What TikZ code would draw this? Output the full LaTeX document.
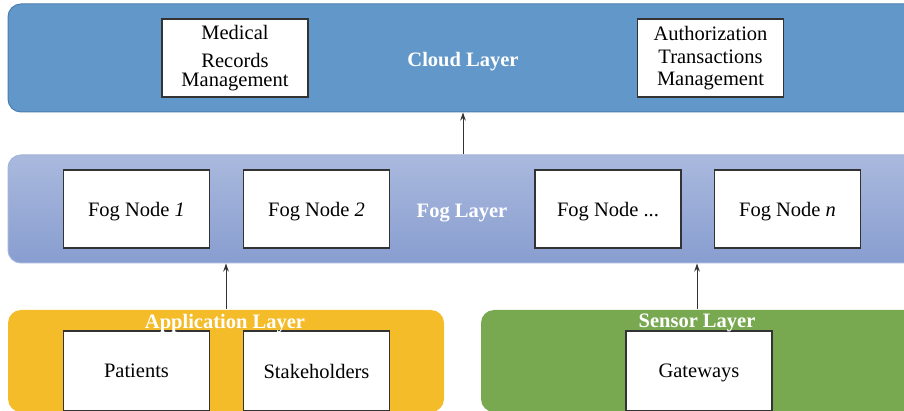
\documentclass[tikz,border=0pt]{standalone}
\usepackage{fontspec}
\setmainfont{Liberation Serif}
\usetikzlibrary{arrows.meta}

\definecolor{cloudfill}{HTML}{6198C9}
\definecolor{cloudedge}{HTML}{4D7DAE}
\definecolor{fogtop}{HTML}{AAB9DD}
\definecolor{fogbottom}{HTML}{889ED0}
\definecolor{fogedge}{HTML}{A3B3DA}
\definecolor{appfill}{HTML}{F5BC2A}
\definecolor{sensorfill}{HTML}{78A84F}
\definecolor{boxedge}{HTML}{333333}
\definecolor{arrowgray}{HTML}{333333}

\tikzset{
  layer/.style={rectangle, rounded corners=13pt, inner sep=0pt, line width=1pt},
  itembox/.style={rectangle, draw=boxedge, fill=white, line width=1.1pt,
    minimum width=146pt, minimum height=78pt, inner sep=0pt, align=center,
    text depth=0pt, font=\fontsize{20.5}{24}\selectfont},
  layerlabel/.style={text=white, font=\fontsize{20.5}{24}\selectfont\bfseries,
    inner sep=0pt, text depth=0pt},
  uparrow/.style={draw=arrowgray, line width=1pt, -{Stealth[length=8pt,width=5.5pt]}}
}

\begin{document}
\begin{tikzpicture}[x=1pt, y=-1pt]
  \useasboundingbox (0,0) rectangle (904,411);
  \clip (0,0) rectangle (904,411);

  % Cloud layer
  \node[layer, fill=cloudfill, draw=cloudedge, minimum width=912pt, minimum height=108pt]
    (cloud) at (464,58) {};
  \node[layerlabel] (cloudlbl) at (463,59) {Cloud Layer};
  \node[itembox, text depth=] (medical) at (235,58)
    {\strut Medical\\[4pt]\strut Records\\[-5pt]\strut Management};
  \node[itembox, text depth=] (auth) at (710.5,58)
    {\strut Authorization\\[-1pt]\strut Transactions\\[-2pt]\strut Management};

  % Fog layer
  \node[layer, top color=fogtop, bottom color=fogbottom, draw=fogedge,
        minimum width=912pt, minimum height=108pt]
    (fog) at (464,209) {};
  \node[layerlabel] (foglbl) at (462,211) {Fog Layer};
  \node[itembox] (fog1) at (136.5,209) {Fog Node \textit{1}};
  \node[itembox] (fog2) at (316.5,209) {Fog Node \textit{2}};
  \node[itembox] (fogdots) at (608,209) {Fog Node ...};
  \node[itembox] (fogn) at (787.5,209) {Fog Node \textit{n}};

  % Application layer
  \node[layer, fill=appfill, minimum width=436pt, minimum height=102pt]
    (app) at (226,361) {};
  \node[itembox, minimum height=80pt] (patients) at (136.5,371) {Patients};
  \node[itembox, minimum height=80pt] (stake) at (316.5,371) {Stakeholders};
  \node[layerlabel] (applbl) at (225,321) {Application Layer};

  % Sensor layer
  \node[layer, fill=sensorfill, minimum width=440pt, minimum height=102pt]
    (sensor) at (701,361) {};
  \node[itembox, minimum height=80pt] (gateways) at (699,371) {Gateways};
  \node[layerlabel] (sensorlbl) at (697,321) {Sensor Layer};

  % Connections between layers
  \draw[uparrow] (fog.north -| cloudlbl) -- (cloud.south -| cloudlbl);
  \draw[uparrow] (app.north) -- (fog.south -| app.north);
  \draw[uparrow] (sensor.north -| sensorlbl) -- (fog.south -| sensorlbl);
\end{tikzpicture}
\end{document}
